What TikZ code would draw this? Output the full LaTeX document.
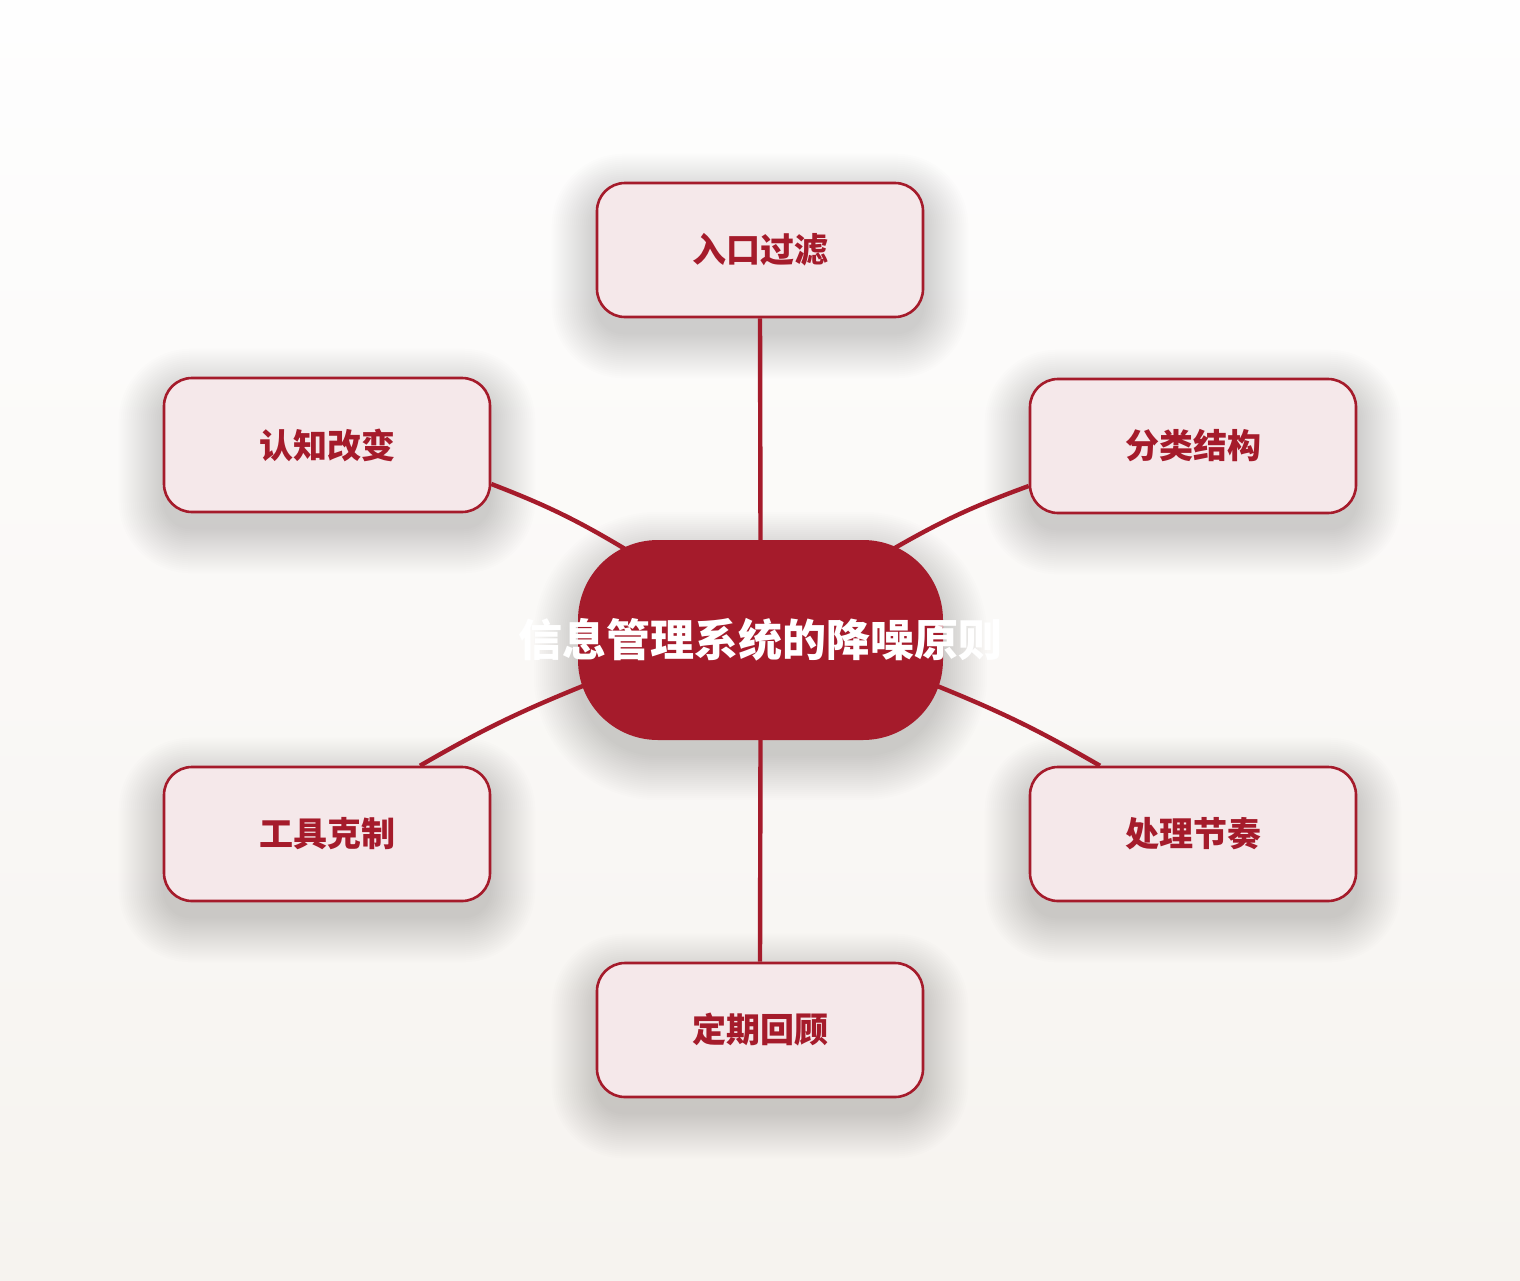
\documentclass[tikz,border=0pt]{standalone}
\usepackage{fontspec}
\newfontfamily\cjk{Noto Sans CJK SC}
\usetikzlibrary{backgrounds}
\definecolor{deepred}{HTML}{A51B2B}
\definecolor{boxfill}{HTML}{F5E8EA}
\definecolor{bgtop}{HTML}{FEFEFE}
\definecolor{bgbot}{HTML}{F6F3EF}
\tikzset{
  leaf/.style={rectangle, rounded corners=28pt, minimum width=326pt, minimum height=134pt,
    draw=deepred, line width=2.6pt, fill=boxfill, text=deepred,
    font=\cjk\bfseries\fontsize{34pt}{40pt}\selectfont},
  hub/.style={rectangle, rounded corners=80pt, minimum width=365pt, minimum height=200pt,
    fill=deepred, text=white, inner sep=0pt,
    font=\cjk\bfseries\fontsize{44pt}{50pt}\selectfont},
  link/.style={draw=deepred, line width=4.4pt},
  shadowlayer/.style={fill=black, opacity=0.008}
}
\begin{document}
\begin{tikzpicture}[x=1pt,y=1pt]
\useasboundingbox (0,0) rectangle (1520,-1280);
\node[leaf] (rk) at (760,-250) {入口过滤};
\node[leaf] (rz) at (327,-445) {认知改变};
\node[leaf] (fl) at (1193,-446) {分类结构};
\node[leaf] (gj) at (327,-834) {工具克制};
\node[leaf] (cl) at (1193,-834) {处理节奏};
\node[leaf] (dq) at (760,-1030) {定期回顾};
\node[hub] (c) at (760.5,-640) {\makebox[0pt]{\raisebox{-1pt}{信息管理系统的降噪原则}}};
\begin{scope}[on background layer]
  \shade[top color=bgtop, bottom color=bgbot] (0,0) rectangle (1520,-1280);
  \foreach \n in {rk,rz,fl,gj,cl,dq}{
    \foreach \i in {0,...,22}{
      \fill[shadowlayer, rounded corners={28pt+2pt*\i}]
        ([xshift={-2pt*\i}, yshift={-16pt+2pt*\i}]\n.north west)
        rectangle ([xshift={2pt*\i}, yshift={-16pt-2pt*\i}]\n.south east);
    }
  }
  \foreach \i in {0,...,22}{
    \fill[shadowlayer, rounded corners={80pt+2pt*\i}]
      ([xshift={-2pt*\i}, yshift={-16pt+2pt*\i}]c.north west)
      rectangle ([xshift={2pt*\i}, yshift={-16pt-2pt*\i}]c.south east);
  }
  \draw[link] (rk.south) -- (c.north);
  \draw[link] (c.south) -- (dq.north);
  \draw[link] ([xshift=52pt,yshift=-12pt]c.north west) to[bend right=5] ([yshift=-39pt]rz.east);
  \draw[link] ([xshift=-55pt,yshift=-12pt]c.north east) to[bend left=5] ([yshift=-40pt]fl.west);
  \draw[link] ([xshift=7pt,yshift=55pt]c.south west) to[bend right=4] ([xshift=93pt]gj.north);
  \draw[link] ([xshift=-8pt,yshift=55pt]c.south east) to[bend left=4] ([xshift=-93pt]cl.north);
\end{scope}
\end{tikzpicture}
\end{document}
